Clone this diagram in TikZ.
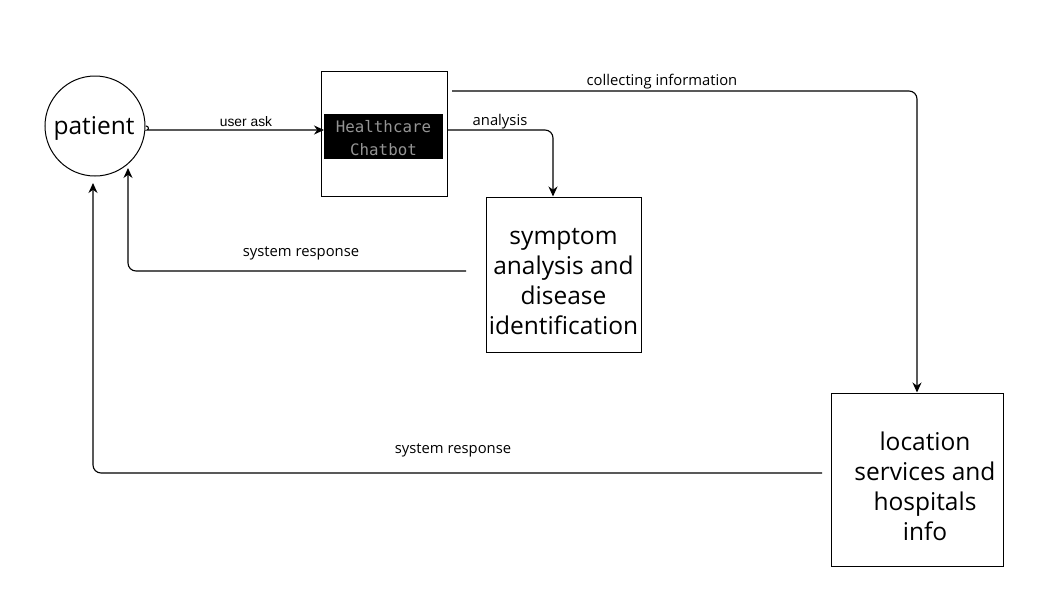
\documentclass[tikz,border=0pt]{standalone}
\usepackage{fontspec}
\setmainfont{Open Sans}
\newfontfamily\armono{DejaVu Sans Mono}
\newfontfamily\arsans{Liberation Sans}
\usetikzlibrary{arrows.meta}
\begin{document}
\begin{tikzpicture}[x=1pt,y=-1pt,
  box/.style={draw, line width=1pt, inner sep=0pt, align=center},
  bigtxt/.style={font=\fontsize{24.5}{30}\selectfont},
  lbl/.style={font=\fontsize{14.8}{17}\selectfont, inner sep=0pt},
  conn/.style={draw, line width=1.1pt, rounded corners=8pt, -{Stealth[length=10pt,width=9pt]}}]
\useasboundingbox (0,0) rectangle (1058,600);
% patient
\node[box, circle, minimum size=100pt] (patient) at (95,126) {};
\node[bigtxt, inner sep=0pt] (pattxt) at (94,128) {patient};
% chatbot
\node[box, minimum width=126pt, minimum height=125pt] (chat) at (384,133.5) {};
\node[fill=black, minimum width=119pt, minimum height=45pt, inner sep=0pt, align=center,
  text=black!42, font=\armono\fontsize{15.8}{23}\selectfont] (chatlbl) at (383.5,136.5) {};
\node[inner sep=0pt, align=center, text=black!42, font=\armono\fontsize{15.8}{23}\selectfont]
  (chattxt) at (383.5,138.5) {Healthcare\\Chatbot};
% symptom
\node[box, minimum width=155pt, minimum height=155pt] (symp) at (563.5,274.5) {};
\node[bigtxt, align=center, inner sep=0pt] (symptxt) at (563.5,282) {symptom\\analysis and\\disease\\identification};
% location
\node[box, minimum width=172pt, minimum height=173pt] (loc) at (917,479.5) {};
\node[bigtxt, align=center, inner sep=0pt] (loctxt) at (925,486.5) {location\\services and\\hospitals\\info};
% connectors
\coordinate (ua1) at (146,126);
\coordinate (ua2) at (324,130);
\draw[conn] (ua1) .. controls (149,126) and (149,130) .. (155,130) -- (ua2);
\node[lbl, font=\arsans\fontsize{13.8}{16}\selectfont] (ualbl) at (246,122) {user ask};

\coordinate (an1) at (447,130);
\draw[conn] (an1) -- (553,130) -- (symp.north -| 553,0);
\node[lbl] (anlbl) at (500,121.5) {analysis};

\coordinate (ci1) at (452,91);
\draw[conn] (ci1) -- (917,91) -- (loc.north);
\node[lbl] (cilbl) at (662,81.5) {collecting information};

\coordinate (sr1) at (466,271);
\coordinate (sr1e) at (128,168);
\draw[conn] (sr1) -- (128,271) -- (sr1e);
\node[lbl] (sr1lbl) at (301,253.5) {system response};

\coordinate (sr2) at (822,473);
\coordinate (sr2e) at (93,183);
\draw[conn] (sr2) -- (93,473) -- (sr2e);
\node[lbl] (sr2lbl) at (453,450.5) {system response};
\end{tikzpicture}
\end{document}
